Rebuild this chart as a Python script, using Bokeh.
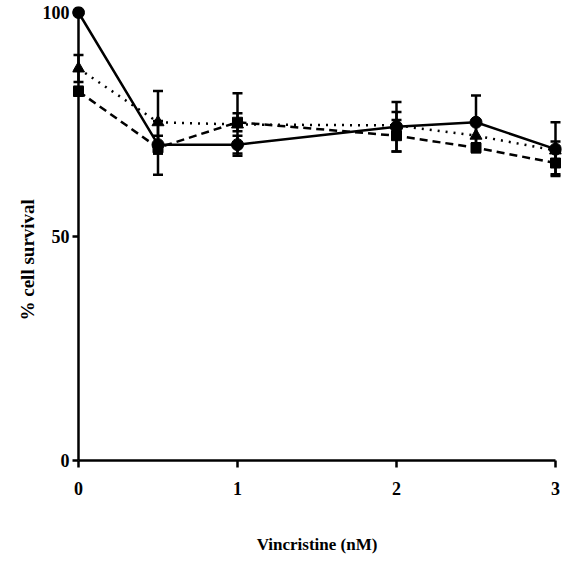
from bokeh.plotting import figure
from bokeh.models import ColumnDataSource, Whisker, TeeHead, FixedTicker, Title
from bokeh.embed import file_html
from bokeh.resources import INLINE

# ---- data ----
conc = [0, 0.5, 1, 2, 2.5, 3]
circle_vals = [100, 70.5, 70.5, 74.5, 75.5, 69.5]
circle_err = [0, 2, 2, 5.5, 6, 6]
square_vals = [82.4, 69.8, 75.5, 72.5, 69.8, 66.4]
square_err = [1, 6, 2, 3.5, 1, 2.5]
triangle_vals = [87.5, 75.5, 75.0, 74.8, 72.5, 69.2]
triangle_err = [3, 7, 7, 3, 3, 2]
x_ticks = [0, 1, 2, 3]
y_ticks = [0, 50, 100]

FONT = "Liberation Serif"

p = figure(width=573, height=561,
           x_range=(-0.0377, 3.0377), y_range=(0, 101.34),
           output_backend="svg", toolbar_location=None,
           min_border_left=72, min_border_right=12,
           min_border_top=6, min_border_bottom=101)
p.outline_line_color = None
p.xgrid.visible = False
p.ygrid.visible = False
p.background_fill_color = "white"
p.border_fill_color = "white"

# x axis
xa = p.xaxis[0]
xa.ticker = FixedTicker(ticks=x_ticks)
xa.bounds = (x_ticks[0], x_ticks[-1])
xa.axis_line_width = 2.5
xa.major_tick_line_width = 2.5
xa.major_tick_out = 7
xa.major_tick_in = 0
xa.minor_tick_line_color = None
xa.major_label_text_font = FONT
xa.major_label_text_font_style = "bold"
xa.major_label_text_font_size = "18px"
xa.major_label_text_color = "black"
xa.major_label_standoff = 14
xa.axis_label = "Vincristine (nM)"
xa.axis_label_text_font = FONT
xa.axis_label_text_font_style = "bold"
xa.axis_label_text_font_size = "17px"
xa.axis_label_text_color = "black"
xa.axis_label_standoff = 37

# y axis (line drawn at x=0 below)
ya = p.yaxis[0]
ya.ticker = FixedTicker(ticks=y_ticks)
ya.axis_line_alpha = 0
ya.major_tick_line_width = 2.5
ya.major_tick_in = 6
ya.major_tick_out = 0
ya.minor_tick_line_color = None
ya.major_label_text_font = FONT
ya.major_label_text_font_style = "bold"
ya.major_label_text_font_size = "18px"
ya.major_label_text_color = "black"
ya.major_label_standoff = 3

ytitle = Title(text="% cell survival", align="left", offset=140,
               text_font=FONT, text_font_style="bold", text_font_size="19px",
               text_color="black", standoff=3)
p.add_layout(ytitle, "left")

p.segment(x0=[conc[0]], y0=[y_ticks[0]], x1=[conc[0]], y1=[y_ticks[-1]],
          line_color="black", line_width=2.5)

def add_series(vals, err, dash, marker, size):
    src = ColumnDataSource(dict(
        x=conc, y=vals,
        lo=[v - e for v, e in zip(vals, err)],
        hi=[v + e for v, e in zip(vals, err)]))
    w = Whisker(base="x", lower="lo", upper="hi", source=src,
                line_color="black", line_width=2.5,
                upper_head=TeeHead(size=10, line_width=2.5, line_color="black"),
                lower_head=TeeHead(size=10, line_width=2.5, line_color="black"))
    p.add_layout(w)
    lw = 3 if dash == "dotted" else 2.5
    p.line("x", "y", source=src, line_color="black", line_width=lw,
           line_dash=dash)
    p.scatter("x", "y", source=src, marker=marker, size=size,
              fill_color="black", line_color="black")

add_series(square_vals, square_err, "8 5", "square", 10)
add_series(triangle_vals, triangle_err, "2 6", "triangle", 12)
add_series(circle_vals, circle_err, "solid", "circle", 12)

open("out.html", "w").write(file_html(p, INLINE))
